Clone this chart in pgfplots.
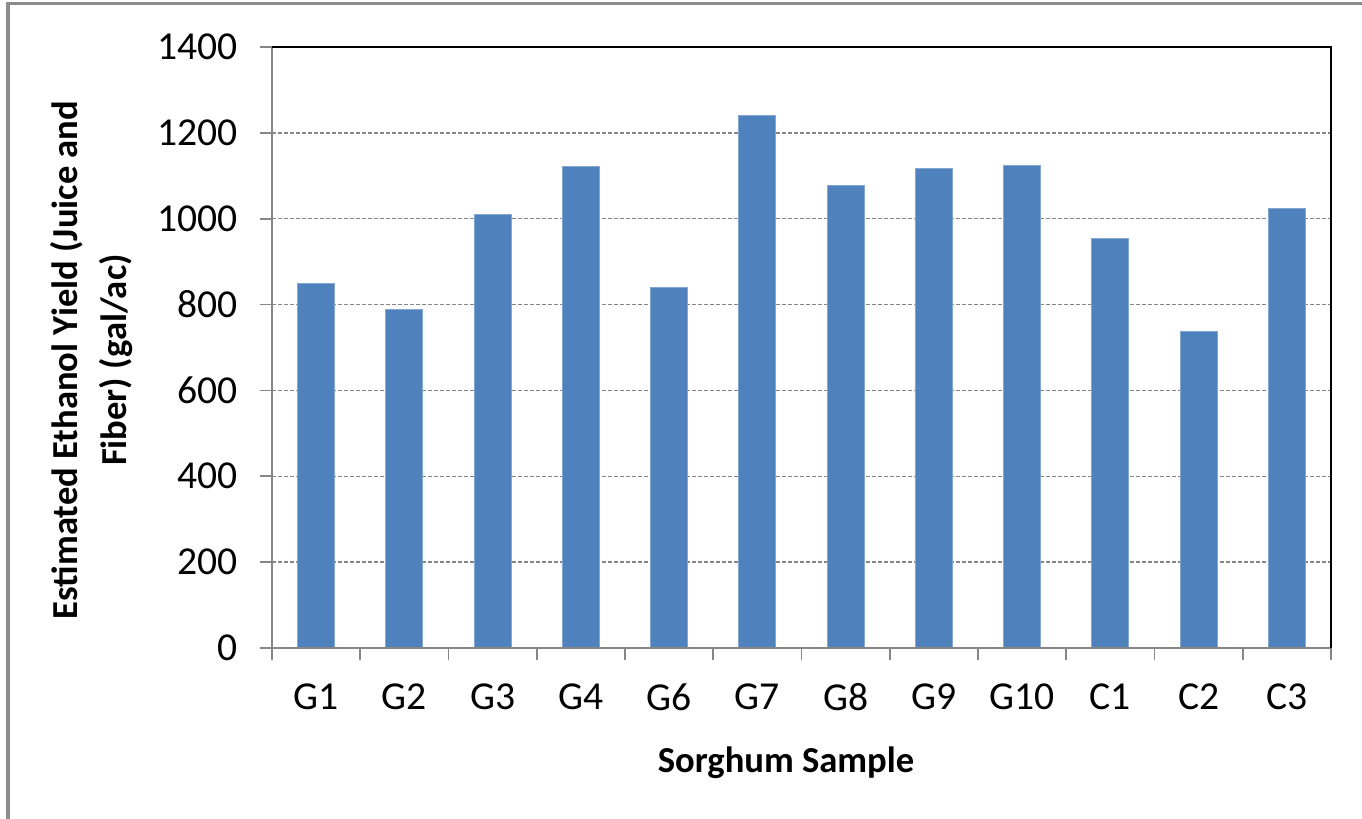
\documentclass[border=0pt]{standalone}
\usepackage{fontspec}
\setmainfont{Carlito}
\usepackage{pgfplots}
\pgfplotsset{compat=1.18}

\definecolor{barblue}{RGB}{79,129,189}
\definecolor{axgray}{RGB}{134,134,134}
\definecolor{framegray}{RGB}{140,140,140}

\begin{document}
\begin{tikzpicture}[x=1pt,y=1pt]
% canvas: 681pt x 409.5pt (0.5pt per pixel unit)
\useasboundingbox (0,0) rectangle (681,409.5);
\fill[white] (0,0) rectangle (681,409.5);
% outer chart frame (left and top edges)
\draw[framegray, line width=1.6pt] (4,0) -- (4,407.8) -- (681,407.8);

\begin{axis}[
  at={(136pt,85.5pt)}, anchor=south west,
  scale only axis,
  width=529.5pt, height=300.5pt,
  ybar, bar width=18.5pt,
  xmin=-0.5, xmax=11.5,
  ymin=0, ymax=1400,
  xtick={0,...,11},
  xticklabels={G1,G2,G3,G4,G6,G7,G8,G9,G10,C1,C2,C3},
  minor xtick={-0.5,0.5,...,11.5},
  ytick={0,200,...,1400},
  xtick pos=bottom, ytick pos=left,
  tick align=outside,
  major tick length=6pt, minor tick length=6pt,
  x tick style={draw=none},
  minor x tick style={draw=axgray, line width=0.8pt},
  y tick style={draw=axgray, line width=0.8pt},
  ymajorgrids,
  major grid style={axgray, line width=0.7pt, dash pattern=on 2pt off 1pt},
  axis line style={draw=none},
  /pgf/number format/assume math mode=true,
  /pgf/number format/1000 sep={},
  tick label style={font=\fontsize{19.8}{22}\selectfont, text=black},
  yticklabel style={anchor=east, inner sep=0pt, xshift=-11pt},
  xticklabel style={anchor=north, inner sep=0pt, yshift=-11.5pt},
  xlabel={Sorghum Sample},
  ylabel={Estimated Ethanol Yield (Juice and\\Fiber) (gal/ac)},
  label style={font=\bfseries\fontsize{18.3}{24.5}\selectfont},
  xlabel style={at={(rel axis cs:0.4854,-0.1913)}, anchor=center},
  ylabel style={at={(rel axis cs:-0.170,0.479)}, anchor=center, align=center},
  clip=false,
]
\addplot[fill=barblue, draw=barblue!70!white, line width=0.4pt]
  coordinates {
    (0,849) (1,789) (2,1010) (3,1121) (4,840) (5,1240)
    (6,1078) (7,1117) (8,1125) (9,955) (10,738) (11,1023)
  };
% plot area border: gray value axes, black top and right edges
\draw[axgray, line width=0.8pt] (rel axis cs:0,1) -- (rel axis cs:0,0) -- (rel axis cs:1,0);
\draw[black, line width=0.8pt] (rel axis cs:0,1) -- (rel axis cs:1,1) -- (rel axis cs:1,0);
\end{axis}
\end{tikzpicture}
\end{document}
